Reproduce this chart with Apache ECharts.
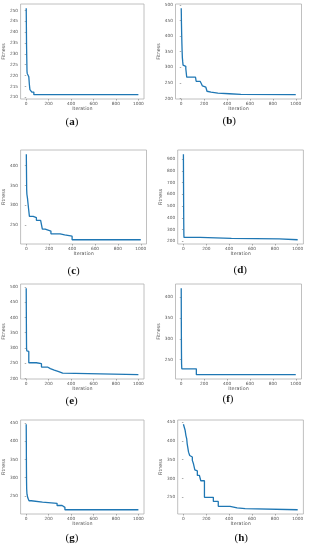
<!DOCTYPE html>
<html><head><meta charset="utf-8">
<script src="https://cdn.jsdelivr.net/npm/echarts@6/dist/echarts.min.js"></script>
<style>html,body{margin:0;padding:0;background:#fff}#c{width:309px;height:550px}</style>
</head><body><div id="c"></div>
<script>
const panelLetters = ['a','b','c','d','e','f','g','h'];
const xTicks = [0, 200, 400, 600, 800, 1000];
const yTicksA = [210, 215, 220, 225, 230, 235, 240, 245, 250];
const yTicksB = [200, 250, 300, 350, 400, 450, 500];
const yTicksC = [250, 300, 350, 400];
const yTicksD = [200, 300, 400, 500, 600, 700, 800, 900];
const yTicksE = [200, 250, 300, 350, 400, 450, 500];
const yTicksF = [250, 300, 350, 400];
const yTicksG = [250, 300, 350, 400, 450];
const yTicksH = [250, 300, 350, 400, 450];

// [iteration, best fitness] change points
const fitA = [[0,251],[1,246],[2,240],[3,234],[5,228],[7,222],[9,221],[23,219.5],[28,216],[33,213.5],[50,212.4],[68,211.2],[1000,211.2]];
const fitB = [[0,489],[1,470],[2,440],[4,405],[6,375],[8,350],[10,330],[13,318],[16,307],[30,303],[40,295],[48,268],[125,268],[130,255],[165,252],[175,248],[185,240],[200,236],[215,232],[225,223],[240,220],[260,217],[320,215],[420,213],[520,212],[1000,212]];
const fitC = [[0,429],[1,400],[2,370],[3,340],[5,328],[10,318],[20,290],[27,272],[60,269],[88,262],[125,258],[140,240],[165,235],[215,228],[295,225],[335,222],[400,213],[1000,213]];
const fitD = [[0,940],[1,700],[2,500],[3,350],[4,260],[5,234],[146,226],[420,222],[837,214],[1000,214]];
const fitE = [[0,495],[1,420],[2,350],[3,300],[5,291],[14,289],[23,252],[90,249],[136,238],[190,233],[215,228],[250,223],[290,218],[325,213],[1000,213]];
const fitF = [[0,421],[1,330],[2,270],[3,240],[5,228],[132,214],[1000,214]];
const fitG = [[0,446],[1,400],[2,330],[3,290],[4,270],[7,255],[14,245],[25,237],[45,233],[145,230],[275,224],[320,219],[345,212.5],[1000,212.5]];
const fitH = [[0,444],[15,428],[22,414],[29,405],[33,392],[45,370],[55,361],[65,357],[78,348],[88,339],[100,323],[112,320],[122,308],[140,303],[152,294],[184,250],[262,239],[305,226],[408,222],[470,220],[540,217],[1000,217]];

const fits = [fitA, fitB, fitC, fitD, fitE, fitF, fitG, fitH];
const yTicks = [yTicksA, yTicksB, yTicksC, yTicksD, yTicksE, yTicksF, yTicksG, yTicksH];

const boxes = [
  {left:18, top:4, width:126, height:95, nameGap:12},
  {left:175.5, top:4, width:126, height:95, nameGap:14},
  {left:20.5, top:150, width:126, height:94, nameGap:14},
  {left:177.7, top:150, width:125.7, height:94, nameGap:12.5},
  {left:18, top:284, width:126, height:95, nameGap:12},
  {left:175.5, top:284, width:126, height:95, nameGap:14},
  {left:18, top:420, width:126, height:94, nameGap:12},
  {left:177.7, top:420, width:125.7, height:94, nameGap:14}
];
const labelPos = [[72,124],[229,123],[74,273],[240,272],[72,403],[229,401],[72,540],[241,540]];

const frame = '#b0b0b0', tickCol = '#777', txt = '#555';
const grid = [], xAxis = [], yAxis = [], series = [], graphic = [];
fits.forEach((d, i) => {
  const b = boxes[i];
  grid.push({left:b.left, top:b.top, width:b.width, height:b.height, show:true, borderColor:frame, borderWidth:0.8, backgroundColor:'#fff'});
  const ys = d.map(p => p[1]);
  const lo = Math.min(...ys), hi = Math.max(...ys), m = (hi - lo) * 0.05;
  xAxis.push({type:'value', gridIndex:i, min:-50, max:1050,
    name:'Iteration', nameLocation:'middle', nameGap:7.5, nameTextStyle:{fontSize:4.8, color:txt, fontFamily:'DejaVu Sans'},
    axisLine:{show:false}, splitLine:{show:false},
    axisTick:{show:true, length:1.5, lineStyle:{color:tickCol, width:0.6}, customValues:xTicks},
    axisLabel:{fontSize:4.3, color:txt, margin:2.5, fontFamily:'DejaVu Sans', customValues:xTicks, formatter: v => String(v)}
  });
  yAxis.push({type:'value', gridIndex:i, min:lo - m, max:hi + m,
    name:'Fitness', nameLocation:'middle', nameGap:b.nameGap, nameTextStyle:{fontSize:4.8, color:txt, fontFamily:'DejaVu Sans'},
    axisLine:{show:false}, splitLine:{show:false},
    axisTick:{show:true, length:1.5, lineStyle:{color:tickCol, width:0.6}, customValues:yTicks[i]},
    axisLabel:{fontSize:4.3, color:txt, margin:2.5, fontFamily:'DejaVu Sans', customValues:yTicks[i], formatter: v => String(v)}
  });
  series.push({type:'line', xAxisIndex:i, yAxisIndex:i, data:d, step:'end', showSymbol:false, silent:true,
    lineStyle:{color:'#1f77b4', width:1.3}, animation:false});
  graphic.push({type:'text', left:labelPos[i][0] - 6.5, top:labelPos[i][1] - 7,
    style:{text:'({b|' + panelLetters[i] + '})', fontSize:11, fontFamily:'Liberation Serif', fill:'#111',
      rich:{b:{fontSize:11, fontFamily:'Liberation Serif', fontWeight:'bold', fill:'#111'}}}});
});

const chart = echarts.init(document.getElementById('c'), null, {renderer:'canvas'});
chart.setOption({animation:false, grid, xAxis, yAxis, series, graphic});
</script></body></html>
